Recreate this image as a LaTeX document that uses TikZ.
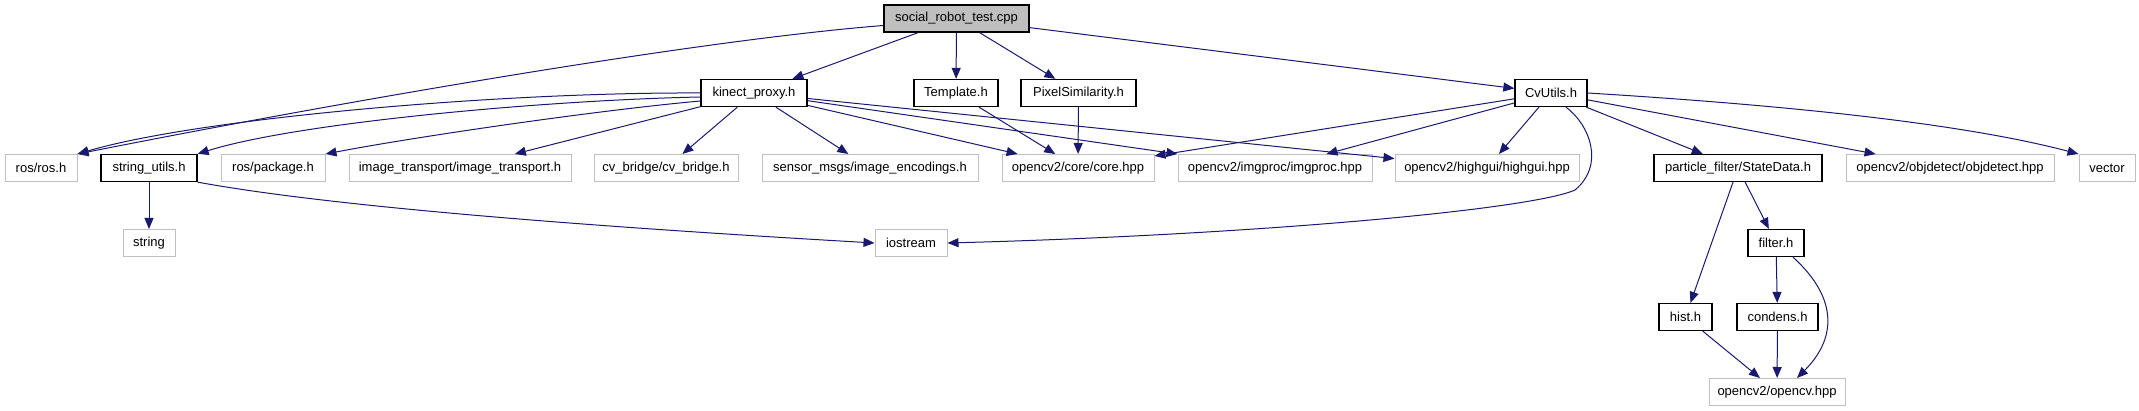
\documentclass[tikz,border=0pt]{standalone}
\usepackage{fontspec}
\setmainfont{Liberation Sans}
\usepackage{xcolor}
\usepackage{tikz}
\usetikzlibrary{arrows.meta, calc}
\definecolor{edgeblue}{HTML}{191970}
\definecolor{boxgray}{HTML}{BFBFBF}
\tikzset{
  block/.style  = {rectangle, draw=black, line width=1.3pt, minimum height=27pt,
                   inner sep=0pt, font=\fontsize{13}{15}\selectfont},
  blockL/.style = {rectangle, draw=boxgray, line width=1pt, minimum height=27pt,
                   inner sep=0pt, font=\fontsize{13}{15}\selectfont},
  blockD/.style = {block, fill=boxgray},
  arrow/.style  = {draw=edgeblue, line width=1pt, ->, >={Triangle[length=11pt,width=9pt]}},
}

\begin{document}
\begin{tikzpicture}[x=1pt, y=-1pt]

    \useasboundingbox (0,0) rectangle (2139,411);

    %% Top file and its direct includes
    \node[blockD, minimum width=145pt] (sr)   at (956.5, 18.5) {social\_robot\_test.cpp};
    \node[block,  minimum width=106pt] (kin)  at (754,   93)   {kinect\_proxy.h};
    \node[block,  minimum width=84pt]  (tmpl) at (956,   93)   {Template.h};
    \node[block,  minimum width=115pt] (pix)  at (1078.5,93)   {PixelSimilarity.h};
    \node[block,  minimum width=72pt]  (cvu)  at (1551,  93)   {CvUtils.h};

    %% Second row
    \node[blockL, minimum width=72pt]  (ros)     at (41,   168) {ros/ros.h};
    \node[block,  minimum width=96pt]  (strutil) at (149,  168) {string\_utils.h};
    \node[blockL, minimum width=104pt] (rospkg)  at (273,  168) {ros/package.h};
    \node[blockL, minimum width=222pt] (imgtr)   at (460,  168) {image\_transport/image\_transport.h};
    \node[blockL, minimum width=144pt] (cvb)     at (666,  168) {cv\_bridge/cv\_bridge.h};
    \node[blockL, minimum width=216pt] (senc)    at (870,  168) {sensor\_msgs/image\_encodings.h};
    \node[blockL, minimum width=152pt] (core)    at (1078, 168) {opencv2/core/core.hpp};
    \node[blockL, minimum width=194pt] (imgproc) at (1275, 168) {opencv2/imgproc/imgproc.hpp};
    \node[blockL, minimum width=184pt] (hgui)    at (1487, 168) {opencv2/highgui/highgui.hpp};
    \node[block,  minimum width=168pt] (state)   at (1738, 168) {particle\_filter/StateData.h};
    \node[blockL, minimum width=208pt] (objdet)  at (1950, 168) {opencv2/objdetect/objdetect.hpp};
    \node[blockL, minimum width=56pt]  (vec)     at (2107, 168) {vector};

    %% Lower rows
    \node[blockL, minimum width=52pt]  (str)   at (149,   243) {string};
    \node[blockL, minimum width=72pt]  (iostr) at (911,   243) {iostream};
    \node[block,  minimum width=56pt]  (filt)  at (1776,  243) {filter.h};
    \node[block,  minimum width=53pt]  (hist)  at (1685.5,317) {hist.h};
    \node[block,  minimum width=81pt]  (cond)  at (1777.5,317) {condens.h};
    \node[blockL, minimum width=136pt] (ocv)   at (1777,  392) {opencv2/opencv.hpp};

    %% social_robot_test.cpp
    \draw[arrow] ([yshift=-7pt]sr.west) .. controls (700,40) and (350,100) .. (ros.north east);
    \draw[arrow] (sr) -- (kin);
    \draw[arrow] (sr) -- (tmpl);
    \draw[arrow] (sr) -- (pix);
    \draw[arrow] (sr) -- (cvu);

    %% kinect_proxy.h
    \draw[arrow] (kin.west) .. controls (500,92) and (200,118) .. (ros.north east);
    \draw[arrow] ([yshift=-4pt]kin.west) .. controls (550,100) and (300,122) .. (strutil.north east);
    \draw[arrow] ([yshift=-8pt]kin.west) .. controls (600,110) and (420,136) .. (rospkg.north east);
    \draw[arrow] (kin) -- (imgtr);
    \draw[arrow] (kin) -- (cvb);
    \draw[arrow] (kin) -- (senc);
    \draw[arrow] (kin) -- (core);
    \draw[arrow] (kin) -- (imgproc);
    \draw[arrow] (kin) -- (hgui);

    \draw[arrow] (tmpl) -- (core);
    \draw[arrow] (pix) -- (core);

    %% string_utils.h
    \draw[arrow] (strutil) -- (str);
    \draw[arrow] (strutil.south east) .. controls (350,210) and (650,230) .. (iostr.west);

    %% CvUtils.h
    \draw[arrow] (cvu) -- (core);
    \draw[arrow] (cvu) -- (imgproc);
    \draw[arrow] (cvu) -- (hgui);
    \draw[arrow] ([xshift=15pt]cvu.south) .. controls (1590,125) and (1605,165) .. (1575,190)
                 .. controls (1530,210) and (1250,235) .. (iostr.east);
    \draw[arrow] (cvu) -- (state);
    \draw[arrow] (cvu) -- (objdet);
    \draw[arrow] (cvu.east) .. controls (1750,103) and (1950,120) .. (vec.north west);

    %% particle filter
    \draw[arrow] (state) -- (hist);
    \draw[arrow] (state) -- (filt);
    \draw[arrow] (filt) -- (cond);
    \draw[arrow] ([xshift=17pt]filt.south) .. controls (1840,300) and (1835,340) .. ([xshift=20pt]ocv.north);
    \draw[arrow] (hist) -- (ocv);
    \draw[arrow] (cond) -- (ocv);

  \end{tikzpicture}
\end{document}
